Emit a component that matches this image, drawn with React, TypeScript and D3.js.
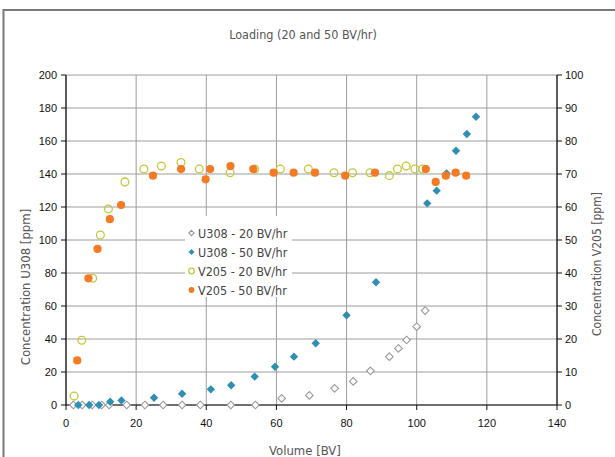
import React from "react";
import * as d3 from "d3";

const u20X = [2.1, 4.6, 7.5, 10.2, 12.3, 17.3, 22.5, 27.7, 33.1, 38.3, 47.0, 54.0, 61.5, 69.4, 76.6, 81.9, 86.8, 92.2, 94.8, 97.1, 100.0, 102.4];
const u20Y = [0, 0, 0, 0, 0, 0, 0, 0, 0, 0, 0, 0, 4.0, 5.8, 10.1, 14.3, 20.7, 29.3, 34.3, 39.4, 47.5, 57.2];

const u50X = [3.5, 6.6, 9.4, 12.6, 15.8, 25.1, 33.1, 41.3, 47.1, 53.8, 59.6, 65.0, 71.2, 80.0, 88.4, 103.0, 105.7, 108.5, 111.2, 114.3, 116.9];
const u50Y = [0, 0, 0, 2, 2.8, 4.4, 6.8, 9.5, 12.0, 17.2, 23.2, 29.3, 37.4, 54.4, 74.4, 122.2, 129.9, 140.4, 154.1, 164.2, 174.7];

const v20X = [2.3, 4.5, 7.6, 9.8, 12.1, 16.8, 22.2, 27.2, 32.8, 38.0, 46.8, 53.8, 61.1, 69.1, 76.4, 81.7, 86.7, 92.2, 94.5, 97.0, 99.5, 101.7];
const v20Y = [2.7, 19.6, 38.4, 51.5, 59.4, 67.6, 71.5, 72.4, 73.5, 71.5, 70.4, 71.5, 71.5, 71.5, 70.4, 70.4, 70.4, 69.5, 71.5, 72.4, 71.5, 71.5];

const v50X = [3.2, 6.4, 9.0, 12.5, 15.7, 24.8, 32.8, 39.8, 41.1, 46.9, 53.4, 59.2, 64.9, 71.0, 79.6, 88.1, 102.6, 105.4, 108.3, 111.1, 114.1];
const v50Y = [13.5, 38.4, 47.3, 56.3, 60.6, 69.5, 71.5, 68.4, 71.5, 72.4, 71.5, 70.4, 70.4, 70.4, 69.5, 70.4, 71.5, 67.6, 69.5, 70.4, 69.5];

const xTicks = [0, 20, 40, 60, 80, 100, 120, 140];
const yLeftTicks = [0, 20, 40, 60, 80, 100, 120, 140, 160, 180, 200];
const yRightTicks = [0, 10, 20, 30, 40, 50, 60, 70, 80, 90, 100];

const legendLabels = ["U308 - 20 BV/hr", "U308 - 50 BV/hr", "V205 - 20 BV/hr", "V205 - 50 BV/hr"];

const TITLE = "Loading (20 and 50 BV/hr)";
const X_LABEL = "Volume [BV]";
const YL_LABEL = "Concentration U308 [ppm]";
const YR_LABEL = "Concentration V205 [ppm]";

const BLUE = "#2f8fb3";
const ORANGE = "#f47a24";
const YELLOW = "#c3c93a";
const GRAY = "#9a9a9a";
const LABEL_FONT = "'DejaVu Sans Condensed', 'Roboto', sans-serif";
const TICK_FONT = "'Liberation Sans', Arial, sans-serif";

const x = d3.scaleLinear().domain([0, 140]).range([66, 557]);
const yL = d3.scaleLinear().domain([0, 200]).range([405, 75]);
const yR = d3.scaleLinear().domain([0, 100]).range([405, 75]);

const diamond = (cx: number, cy: number, r: number) =>
  `M${cx},${cy - r}L${cx + r},${cy}L${cx},${cy + r}L${cx - r},${cy}Z`;

function Marker({ kind, cx, cy, s = 1 }: { kind: number; cx: number; cy: number; s?: number }) {
  if (kind === 0)
    return <path d={diamond(cx, cy, 3.8 * s)} fill="white" stroke={GRAY} strokeWidth={1.1} />;
  if (kind === 1) return <path d={diamond(cx, cy, 4.2 * s)} fill={BLUE} />;
  if (kind === 2) return <circle cx={cx} cy={cy} r={3.9 * s} fill="none" stroke={YELLOW} strokeWidth={1.3} />;
  return <circle cx={cx} cy={cy} r={4.1 * s} fill={ORANGE} />;
}

export default function App() {
  const x0 = x.range()[0];
  const x1 = x.range()[1];
  const yb = yL.range()[0];
  const yt = yL.range()[1];
  return (
    <svg width={615} height={457} style={{ position: "absolute", left: 0, top: 0 }}>
      <rect x={0} y={0} width={615} height={457} fill="white" />
      <rect x={3.5} y={10} width={700} height={600} fill="white" stroke="#7a7a7a" strokeWidth={2} />
      <text x={303} y={39} textAnchor="middle" fontFamily={LABEL_FONT} fontSize={12.5} fill="#555">
        {TITLE}
      </text>
      {yLeftTicks.map((t) => (
        <line key={"gy" + t} x1={x0} x2={x1} y1={yL(t)} y2={yL(t)} stroke="#9c9c9c" strokeWidth={1} />
      ))}
      {xTicks.map((t) => (
        <line key={"gx" + t} x1={x(t)} x2={x(t)} y1={yb} y2={yt} stroke="#9c9c9c" strokeWidth={1} />
      ))}
      <line x1={x0} x2={x0} y1={yt} y2={yb} stroke="#111" strokeWidth={1.2} />
      <line x1={x1} x2={x1} y1={yt} y2={yb} stroke="#111" strokeWidth={1.2} />
      <line x1={x0} x2={x1} y1={yb} y2={yb} stroke="#111" strokeWidth={1.2} />
      {yLeftTicks.map((t) => (
        <g key={"yl" + t}>
          <line x1={x0 - 5} x2={x0} y1={yL(t)} y2={yL(t)} stroke="#111" />
          <text x={x0 - 9} y={yL(t) + 4} textAnchor="end" fontFamily={TICK_FONT} fontSize={11} fill="#111">
            {t}
          </text>
        </g>
      ))}
      {yRightTicks.map((t) => (
        <g key={"yr" + t}>
          <line x1={x1} x2={x1 + 5} y1={yR(t)} y2={yR(t)} stroke="#111" />
          <text x={x1 + 8} y={yR(t) + 4} textAnchor="start" fontFamily={TICK_FONT} fontSize={11} fill="#111">
            {t}
          </text>
        </g>
      ))}
      {xTicks.map((t) => (
        <g key={"xt" + t}>
          <line x1={x(t)} x2={x(t)} y1={yb} y2={yb + 5} stroke="#111" />
          <text x={x(t)} y={yb + 22} textAnchor="middle" fontFamily={TICK_FONT} fontSize={11} fill="#111">
            {t}
          </text>
        </g>
      ))}
      <text x={305} y={455} textAnchor="middle" fontFamily={LABEL_FONT} fontSize={13} fill="#555">
        {X_LABEL}
      </text>
      <text transform="translate(30,287) rotate(-90)" textAnchor="middle" fontFamily={LABEL_FONT} fontSize={13} fill="#555">
        {YL_LABEL}
      </text>
      <text transform="translate(601,264) rotate(-90)" textAnchor="middle" fontFamily={LABEL_FONT} fontSize={12} fill="#555">
        {YR_LABEL}
      </text>
      {u20X.map((v, i) => <Marker key={"a" + i} kind={0} cx={x(v)} cy={yL(u20Y[i])} />)}
      {u50X.map((v, i) => <Marker key={"b" + i} kind={1} cx={x(v)} cy={yL(u50Y[i])} />)}
      {v20X.map((v, i) => <Marker key={"c" + i} kind={2} cx={x(v)} cy={yR(v20Y[i])} />)}
      {v50X.map((v, i) => <Marker key={"d" + i} kind={3} cx={x(v)} cy={yR(v50Y[i])} />)}
      <rect x={185} y={216} width={107} height={81} fill="white" />
      {legendLabels.map((l, i) => {
        const cy = 233 + i * 19;
        return (
          <g key={"lg" + i}>
            <Marker kind={i} cx={191.5} cy={cy} s={0.72} />
            <text x={198} y={cy + 4.5} fontFamily={LABEL_FONT} fontSize={12.5} fill="#444">
              {l}
            </text>
          </g>
        );
      })}
    </svg>
  );
}
